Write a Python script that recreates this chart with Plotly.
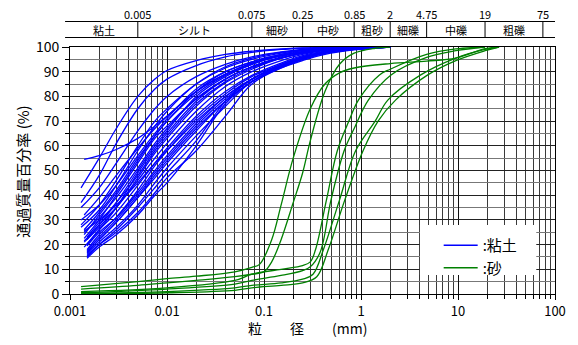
import math
import plotly.graph_objects as go

# ---------------- data ----------------
# clay (粘土) curves: grain size (mm) vs percent passing
CLAY_D = [0.002, 0.003, 0.005, 0.0075, 0.01, 0.02, 0.04, 0.075, 0.15, 0.25, 0.425, 0.85, 2.0]
CLAY_START = [0.0013, 0.0013, 0.0014, 0.0013, 0.0013, 0.0014, 0.0014, 0.0014, 0.0015, 0.0015,
              0.0014, 0.0015, 0.0015, 0.0015, 0.0015, 0.0015, 0.0015, 0.0015, 0.0013, 0.0014,
              0.0014, 0.0013, 0.0014, 0.0015, 0.0015, 0.0014, 0.0014, 0.0015]
CLAY_P = [
    [43, 55, 67, 80, 87, 90.5, 94.5, 97, 98.3, 99.2, 99.6, 99.8, 100, 100],
    [37, 48, 61, 75, 83, 87, 92.5, 96, 97.8, 99, 99.5, 99.8, 100, 100],
    [54.5, 56, 58.5, 63, 68, 72, 82, 89, 93.5, 96.5, 98, 99, 99.7, 100],
    [35, 43, 53, 66, 75, 80, 88, 93, 96, 98, 99, 99.6, 100, 100],
    [28, 36, 46, 60, 70, 75, 85, 91.5, 95, 97.5, 98.8, 99.5, 100, 100],
    [32, 39, 48, 59, 67, 72, 82, 89, 93.5, 96.5, 98, 99, 99.7, 100],
    [26, 33, 42, 55, 64, 70, 81, 88.5, 93, 96.5, 98, 99, 99.7, 100],
    [25, 31, 39, 51, 61, 67, 79, 87, 92, 95.5, 97.5, 98.8, 99.6, 100],
    [23, 29, 37, 48, 58, 64, 77, 86, 91.5, 95.5, 97.5, 98.8, 99.6, 100],
    [22, 28, 35, 46, 55, 61, 74, 84, 90, 94.5, 97, 98.5, 99.5, 100],
    [21, 27, 35, 47, 57, 63, 76, 85.5, 91, 95.5, 97.5, 98.8, 99.6, 100],
    [20, 26, 33, 44, 53, 59, 72, 82, 88.5, 93.5, 96.5, 98.3, 99.4, 100],
    [19.5, 25, 31, 41, 50, 56, 69, 80, 87, 92.5, 95.5, 97.8, 99.2, 100],
    [18, 24, 31, 42, 52, 58, 71, 81, 88, 93, 96, 98, 99.3, 100],
    [17, 22, 29, 39, 48, 54, 67, 78, 86, 92, 95.5, 97.8, 99.2, 100],
    [16, 21, 27, 36, 45, 51, 64, 76, 86, 91.5, 95, 97.5, 99, 100],
    [15, 20, 26, 35, 43, 49, 62, 78, 87, 93, 96, 98, 99.4, 100],
    [14.5, 19, 24, 32, 40, 45, 60, 77, 86, 92, 95, 97.5, 99, 100],
    [27, 34, 44, 58, 68, 74, 85, 92, 95.5, 97.8, 98.8, 99.5, 100, 100],
    [24, 32, 41, 54, 64, 70, 82, 90, 94, 97, 98.5, 99.3, 99.8, 100],
    [22.5, 30, 40, 53, 63, 68, 79, 87, 92, 96, 98, 99, 99.7, 100],
    [30, 36, 44, 56, 65, 71, 83, 90, 94, 97, 98.5, 99.3, 99.8, 100],
    [19, 26, 35, 49, 59, 65, 78, 87, 92, 95.5, 97.5, 98.8, 99.6, 100],
    [17.5, 23, 30, 40, 49, 55, 68, 79, 87, 92, 95, 97.5, 99, 100],
    [16.5, 22, 29, 39, 47, 53, 66, 78, 86, 92, 95.5, 97.8, 99.3, 100],
    [21.5, 28, 37, 50, 60, 66, 80, 88, 93, 96.5, 98, 99, 99.7, 100],
    [25.5, 30, 36, 45, 53, 58, 70, 80, 87, 92.5, 96, 98, 99.4, 100],
    [15.5, 20, 25, 33, 41, 47, 58, 72, 85, 91.5, 94.5, 97, 98.8, 100],
]

# sand (砂) curves
SAND_D = [
    [0.0013, 0.005, 0.01, 0.02, 0.05, 0.075, 0.09, 0.12, 0.15, 0.2, 0.3, 0.425, 0.6, 0.85, 2.0, 4.75, 9.5, 19.0, 26.5],
    [0.0013, 0.005, 0.01, 0.02, 0.05, 0.075, 0.1, 0.12, 0.15, 0.2, 0.25, 0.3, 0.425, 0.6, 0.85, 1.4, 2.0],
    [0.0013, 0.01, 0.05, 0.075, 0.15, 0.25, 0.3, 0.34, 0.44, 0.57, 0.75, 0.94, 1.55, 2.0, 4.75, 9.5, 19.0],
    [0.0013, 0.01, 0.05, 0.075, 0.15, 0.25, 0.3, 0.38, 0.49, 0.67, 0.85, 1.19, 2.04, 4.75, 9.5, 19.0],
    [0.0013, 0.01, 0.05, 0.075, 0.15, 0.25, 0.32, 0.41, 0.6, 0.88, 1.4, 1.89, 4.13, 9.5, 19.0, 26.5],
    [0.0013, 0.01, 0.05, 0.075, 0.15, 0.25, 0.35, 0.46, 0.68, 1.05, 1.5, 2.27, 4.88, 9.5, 19.0, 26.5],
]
SAND_P = [
    [3.0, 5.0, 6.2, 7.2, 9.0, 10.8, 12.0, 22, 36, 55, 75, 85, 89.5, 91.5, 93.3, 94.3, 95.5, 99.3, 100],
    [2.0, 3.5, 4.5, 5.5, 7.0, 8.0, 9.0, 13, 22, 37, 49, 62, 82, 93, 97.5, 99.5, 100],
    [1.0, 2.5, 5.5, 8.0, 10.0, 11.5, 13.0, 18, 38, 58, 70, 78.5, 88.7, 91, 97, 99.2, 100],
    [0.5, 2.0, 4.0, 5.5, 7.5, 9.5, 11.0, 17, 38, 58, 67, 78.5, 88.7, 95.8, 98.5, 100],
    [0.3, 1.0, 2.5, 3.5, 4.5, 6.0, 8.0, 18, 38, 58, 70, 78.5, 88.7, 95.5, 99, 100],
    [0.0, 0.5, 1.5, 2.5, 3.5, 4.5, 7.0, 18, 38, 58, 70, 78.5, 88.7, 94.5, 98.5, 100],
]

X_TICKS = [0.001, 0.01, 0.1, 1, 10, 100]
X_TICK_TEXT = ["0.001", "0.01", "0.1", "1", "10", "100"]
Y_TICKS = list(range(0, 101, 10))

BOUNDS = [0.005, 0.075, 0.25, 0.85, 2, 4.75, 19, 75]
BOUND_TEXT = ["0.005", "0.075", "0.25", "0.85", "2", "4.75", "19", "75"]
CATEGORIES = ["粘土", "シルト", "細砂", "中砂", "粗砂", "細礫", "中礫", "粗礫"]

X_TITLE = "粒　　径　　(mm)"
Y_TITLE = "通過質量百分率 (%)"
NAME_CLAY = ":粘土"
NAME_SAND = ":砂"

# ---------------- figure ----------------
FONT = "Noto Sans CJK JP"
W, H = 578, 345
ML, MR, MT, MB = 70, 16, 47, 51
PW, PH = W - ML - MR, H - MT - MB
XMIN, XMAX = -3, 2


def px2paper_x(px):
    return (px - ML) / PW


def px2paper_y(py):
    return (H - MB - py) / PH


def log2paper(d):
    return (math.log10(d) - XMIN) / (XMAX - XMIN)


fig = go.Figure()

for i, (start, vals) in enumerate(zip(CLAY_START, CLAY_P)):
    fig.add_trace(go.Scatter(
        x=[start] + CLAY_D, y=vals, mode="lines",
        line=dict(color="#0000ff", width=1.3, shape="spline", smoothing=1.0),
        name=NAME_CLAY, legendgroup="clay", showlegend=(i == 0), hoverinfo="skip"))

for i, (ds, vals) in enumerate(zip(SAND_D, SAND_P)):
    fig.add_trace(go.Scatter(
        x=ds, y=vals, mode="lines",
        line=dict(color="#008000", width=1.3, shape="spline", smoothing=1.0),
        name=NAME_SAND, legendgroup="sand", showlegend=(i == 0), hoverinfo="skip"))

shapes = []
annotations = []

# legend background
shapes.append(dict(type="rect", xref="paper", yref="paper", layer="above",
                   x0=px2paper_x(425), x1=px2paper_x(543),
                   y0=px2paper_y(275), y1=px2paper_y(225),
                   fillcolor="white", line=dict(width=0)))

# top classification table
y_line1 = px2paper_y(21.5)
y_line2 = px2paper_y(37.5)
for yy in (y_line1, y_line2):
    shapes.append(dict(type="line", xref="paper", yref="paper",
                       x0=px2paper_x(65), x1=px2paper_x(562), y0=yy, y1=yy,
                       line=dict(color="black", width=1)))
for b, t in zip(BOUNDS, BOUND_TEXT):
    xb = log2paper(b)
    shapes.append(dict(type="line", xref="paper", yref="paper",
                       x0=xb, x1=xb, y0=y_line2, y1=y_line1,
                       line=dict(color="black", width=1)))
    annotations.append(dict(xref="paper", yref="paper", x=xb, y=px2paper_y(14),
                            text=t, showarrow=False, xanchor="center", yanchor="middle",
                            font=dict(size=11, family=FONT, color="black")))
edges = [0.001] + BOUNDS
for c, lo, hi in zip(CATEGORIES, edges[:-1], edges[1:]):
    xc = (log2paper(lo) + log2paper(hi)) / 2
    annotations.append(dict(xref="paper", yref="paper", x=xc, y=px2paper_y(30),
                            text=c, showarrow=False, xanchor="center", yanchor="middle",
                            font=dict(size=11, family=FONT, color="black")))

# axis titles
annotations.append(dict(xref="paper", yref="paper", x=px2paper_x(311), y=px2paper_y(328),
                        text=X_TITLE, showarrow=False, xanchor="center", yanchor="middle",
                        font=dict(size=14, family=FONT, color="black")))
annotations.append(dict(xref="paper", yref="paper", x=px2paper_x(21), y=px2paper_y(172),
                        text=Y_TITLE, showarrow=False, textangle=-90,
                        xanchor="center", yanchor="middle",
                        font=dict(size=15, family=FONT, color="black")))

fig.update_layout(
    width=W, height=H,
    margin=dict(l=ML, r=MR, t=MT, b=MB),
    paper_bgcolor="white", plot_bgcolor="white",
    font=dict(family=FONT, color="black"),
    shapes=shapes, annotations=annotations,
    showlegend=True,
    legend=dict(x=px2paper_x(444), y=px2paper_y(229), xanchor="left", yanchor="top",
                bgcolor="rgba(0,0,0,0)", borderwidth=0,
                font=dict(size=15, family=FONT, color="black"),
                tracegroupgap=0, itemwidth=34),
)

fig.update_xaxes(
    type="log", range=[XMIN, XMAX],
    tickmode="array", tickvals=X_TICKS, ticktext=X_TICK_TEXT,
    ticks="outside", ticklen=5, tickcolor="black", tickwidth=1,
    tickfont=dict(size=13, family=FONT, color="black"),
    showline=True, linecolor="black", linewidth=1, mirror=True,
    showgrid=True, gridcolor="#111111", gridwidth=1, zeroline=False,
    minor=dict(dtick="D1", showgrid=True, gridcolor="#3a3a3a", gridwidth=1,
               ticks="outside", ticklen=4, tickcolor="black"),
)
fig.update_yaxes(
    range=[0, 100], tickmode="array", tickvals=Y_TICKS,
    ticks="outside", ticklen=7, tickcolor="black", tickwidth=1,
    tickfont=dict(size=14, family=FONT, color="black"),
    showline=True, linecolor="black", linewidth=1, mirror=True,
    showgrid=True, gridcolor="#222222", gridwidth=1, zeroline=False,
    minor=dict(dtick=5, showgrid=True, gridcolor="#777777", gridwidth=1,
               ticks="outside", ticklen=4, tickcolor="black"),
)

fig.write_html("out.html")
